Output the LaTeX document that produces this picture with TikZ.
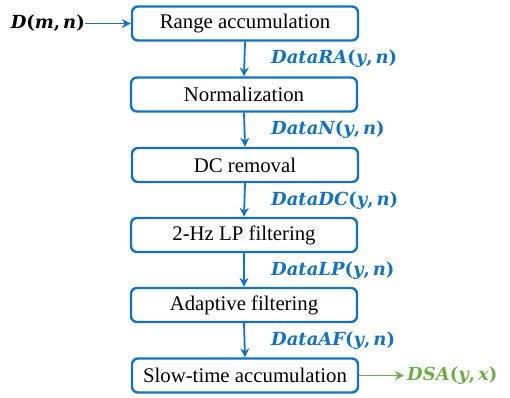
\documentclass[tikz,border=0pt]{standalone}
\usepackage{fontspec}
\setmainfont{Liberation Serif}
\newfontfamily\labfont{DejaVu Serif}
\usetikzlibrary{arrows.meta}
\definecolor{myblue}{RGB}{20,114,196}
\definecolor{mygreen}{RGB}{112,173,71}
\newcommand{\bi}[1]{{\labfont\bfseries\itshape #1}}
\newcommand{\bu}[1]{{\labfont\bfseries #1}}
\tikzset{
  stepbox/.style={draw=myblue, line width=2.4pt, rounded corners=6pt, minimum width=226pt, minimum height=34pt, inner sep=0pt, font=\fontsize{20.8}{22}\selectfont},
  flow/.style={draw=myblue, line width=1.8pt, -{Stealth[length=9pt,width=9pt]}},
  gflow/.style={draw=mygreen, line width=1.8pt, -{Stealth[length=9pt,width=9pt]}},
  lab/.style={anchor=west, inner sep=0pt, font=\fontsize{18}{20}\selectfont}
}
\begin{document}
\begin{tikzpicture}[x=1pt,y=-1pt]
\useasboundingbox (0,0) rectangle (510,397);
\node[stepbox] (b1) at (245,23.5) {Range accumulation};
\node[stepbox] (b2) at (244,94.5) {Normalization};
\node[stepbox] (b3) at (245,165) {DC removal};
\node[stepbox] (b4) at (244,235) {2-Hz LP filtering};
\node[stepbox] (b5) at (244,305) {Adaptive filtering};
\node[stepbox] (b6) at (245,375.5) {Slow-time accumulation};
\node[lab, anchor=east, inner sep=0pt] (in) at (85,23.5) {\bi{D}\bu{(}\bi{m}\bu{,}\,\bi{n}\bu{)}};
\draw[flow] (in.east) -- (b1.west);
\draw[flow] (b1.south) -- (b2.north);
\draw[flow] (b2.south) -- (b3.north);
\draw[flow] (b3.south) -- (b4.north);
\draw[flow] (b4.south) -- (b5.north);
\draw[flow] (b5.south) -- (b6.north);
\node[lab, text=myblue] (l1) at (271,59) {\bi{DataRA}\bu{(}\bi{y}\bu{,}\,\bi{n}\bu{)}};
\node[lab, text=myblue] (l2) at (271,130) {\bi{DataN}\bu{(}\bi{y}\bu{,}\,\bi{n}\bu{)}};
\node[lab, text=myblue] (l3) at (271,201) {\bi{DataDC}\bu{(}\bi{y}\bu{,}\,\bi{n}\bu{)}};
\node[lab, text=myblue] (l4) at (271,271) {\bi{DataLP}\bu{(}\bi{y}\bu{,}\,\bi{n}\bu{)}};
\node[lab, text=myblue] (l5) at (271,341) {\bi{DataAF}\bu{(}\bi{y}\bu{,}\,\bi{n}\bu{)}};
\node[lab, text=mygreen] (out) at (407,375.5) {\bi{DSA}\bu{(}\bi{y}\bu{,}\,\bi{x}\bu{)}};
\draw[gflow] (b6.east) -- ([xshift=-3pt]out.west);
\end{tikzpicture}
\end{document}
